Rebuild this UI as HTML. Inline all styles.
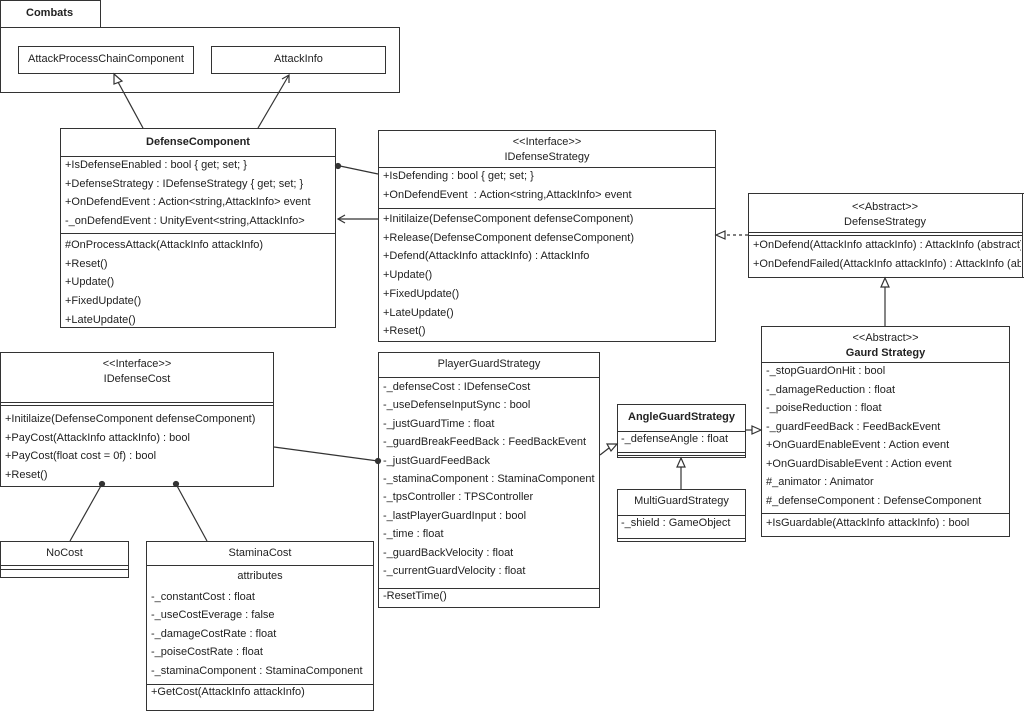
<!DOCTYPE html>
<html><head><meta charset="utf-8"><style>
body{margin:0;width:1024px;height:707px;background:#fff;position:relative;overflow:hidden;font-family:"Liberation Sans",sans-serif;font-size:11px;color:#222}
.b{position:absolute;border:1px solid #333;background:#fff;box-sizing:border-box}
.t{position:absolute;white-space:nowrap}
.hl{position:absolute;height:1px;background:#333}
.c{text-align:center}
</style></head><body>
<div class="b" style="left:0;top:0;width:101px;height:28px"></div>
<div class="t" style="left:26px;top:7px;font-weight:bold">Combats</div>
<div class="b" style="left:0;top:27px;width:400px;height:66px"></div>
<div class="b" style="left:18px;top:46px;width:176px;height:28px"></div>
<div class="t" style="left:28px;top:53px">AttackProcessChainComponent</div>
<div class="b" style="left:211px;top:46px;width:175px;height:28px"></div>
<div class="t" style="left:274px;top:53px">AttackInfo</div>

<div class="b" style="left:60px;top:128px;width:276px;height:200px"></div>
<div class="t c" style="left:60px;width:276px;top:136px;font-weight:bold">DefenseComponent</div>
<div class="hl" style="left:60px;top:156px;width:276px"></div>
<div class="hl" style="left:60px;top:233px;width:276px"></div>
<div class="t" style="left:65px;top:156px;line-height:18.7px">+IsDefenseEnabled : bool { get; set; }<br>+DefenseStrategy : IDefenseStrategy { get; set; }<br>+OnDefendEvent : Action&lt;string,AttackInfo&gt; event<br>-_onDefendEvent : UnityEvent&lt;string,AttackInfo&gt;</div>
<div class="t" style="left:65px;top:236px;line-height:18.7px">#OnProcessAttack(AttackInfo attackInfo)<br>+Reset()<br>+Update()<br>+FixedUpdate()<br>+LateUpdate()</div>

<div class="b" style="left:378px;top:130px;width:338px;height:212px"></div>
<div class="t c" style="left:378px;width:338px;top:135px;line-height:15px">&lt;&lt;Interface&gt;&gt;<br>IDefenseStrategy</div>
<div class="hl" style="left:378px;top:167px;width:338px"></div>
<div class="hl" style="left:378px;top:208px;width:338px"></div>
<div class="t" style="left:383px;top:167px;line-height:18.7px">+IsDefending : bool { get; set; }<br>+OnDefendEvent&nbsp; : Action&lt;string,AttackInfo&gt; event</div>
<div class="t" style="left:383px;top:210px;line-height:18.7px">+Initilaize(DefenseComponent defenseComponent)<br>+Release(DefenseComponent defenseComponent)<br>+Defend(AttackInfo attackInfo) : AttackInfo<br>+Update()<br>+FixedUpdate()<br>+LateUpdate()<br>+Reset()</div>

<div class="b" style="left:748px;top:193px;width:276px;height:85px;border-right:none"></div>
<div class="hl" style="left:1022px;top:193px;width:1px;height:85px"></div>
<div class="t c" style="left:748px;width:274px;top:200px;line-height:15px">&lt;&lt;Abstract&gt;&gt;<br>DefenseStrategy</div>
<div class="hl" style="left:748px;top:232px;width:274px"></div>
<div class="hl" style="left:748px;top:235px;width:274px"></div>
<div style="position:absolute;left:749px;top:236px;width:272px;overflow:hidden"><div class="t" style="position:static;line-height:18.5px;padding-left:4px">+OnDefend(AttackInfo attackInfo) : AttackInfo (abstract)<br>+OnDefendFailed(AttackInfo attackInfo) : AttackInfo (abstract)</div></div>

<div class="b" style="left:761px;top:326px;width:249px;height:211px"></div>
<div class="t c" style="left:761px;width:249px;top:331px;line-height:15px">&lt;&lt;Abstract&gt;&gt;<br><b>Gaurd Strategy</b></div>
<div class="hl" style="left:761px;top:362px;width:249px"></div>
<div class="hl" style="left:761px;top:513px;width:249px"></div>
<div class="t" style="left:766px;top:362px;line-height:18.5px">-_stopGuardOnHit : bool<br>-_damageReduction : float<br>-_poiseReduction : float<br>-_guardFeedBack : FeedBackEvent<br>+OnGuardEnableEvent : Action event<br>+OnGuardDisableEvent : Action event<br>#_animator : Animator<br>#_defenseComponent : DefenseComponent</div>
<div class="t" style="left:766px;top:517px">+IsGuardable(AttackInfo attackInfo) : bool</div>

<div class="b" style="left:617px;top:404px;width:129px;height:54px"></div>
<div class="t c" style="left:617px;width:129px;top:411px;font-weight:bold">AngleGuardStrategy</div>
<div class="hl" style="left:617px;top:431px;width:129px"></div>
<div class="t" style="left:621px;top:433px">-_defenseAngle : float</div>
<div class="hl" style="left:617px;top:452px;width:129px"></div>
<div class="hl" style="left:617px;top:455px;width:129px"></div>

<div class="b" style="left:617px;top:489px;width:129px;height:53px"></div>
<div class="t c" style="left:617px;width:129px;top:495px">MultiGuardStrategy</div>
<div class="hl" style="left:617px;top:515px;width:129px"></div>
<div class="t" style="left:621px;top:517px">-_shield : GameObject</div>
<div class="hl" style="left:617px;top:538px;width:129px"></div>

<div class="b" style="left:378px;top:352px;width:222px;height:256px"></div>
<div class="t c" style="left:378px;width:222px;top:358px">PlayerGuardStrategy</div>
<div class="hl" style="left:378px;top:377px;width:222px"></div>
<div class="hl" style="left:378px;top:588px;width:222px"></div>
<div class="t" style="left:383px;top:378px;line-height:18.4px">-_defenseCost : IDefenseCost<br>-_useDefenseInputSync : bool<br>-_justGuardTime : float<br>-_guardBreakFeedBack : FeedBackEvent<br>-_justGuardFeedBack<br>-_staminaComponent : StaminaComponent<br>-_tpsController : TPSController<br>-_lastPlayerGuardInput : bool<br>-_time : float<br>-_guardBackVelocity : float<br>-_currentGuardVelocity : float</div>
<div class="t" style="left:383px;top:590px">-ResetTime()</div>

<div class="b" style="left:0;top:352px;width:274px;height:135px"></div>
<div class="t c" style="left:0;width:274px;top:357px;line-height:15px">&lt;&lt;Interface&gt;&gt;<br>IDefenseCost</div>
<div class="hl" style="left:0;top:402px;width:274px"></div>
<div class="hl" style="left:0;top:405px;width:274px"></div>
<div class="t" style="left:5px;top:410px;line-height:18.5px">+Initilaize(DefenseComponent defenseComponent)<br>+PayCost(AttackInfo attackInfo) : bool<br>+PayCost(float cost = 0f) : bool<br>+Reset()</div>

<div class="b" style="left:0;top:541px;width:129px;height:37px"></div>
<div class="t c" style="left:0;width:129px;top:547px">NoCost</div>
<div class="hl" style="left:0;top:565px;width:129px"></div>
<div class="hl" style="left:0;top:569px;width:129px"></div>

<div class="b" style="left:146px;top:541px;width:228px;height:170px"></div>
<div class="t c" style="left:146px;width:228px;top:547px">StaminaCost</div>
<div class="hl" style="left:146px;top:565px;width:228px"></div>
<div class="t c" style="left:146px;width:228px;top:570px">attributes</div>
<div class="t" style="left:151px;top:588px;line-height:18.4px">-_constantCost : float<br>-_useCostEverage : false<br>-_damageCostRate : float<br>-_poiseCostRate : float<br>-_staminaComponent : StaminaComponent</div>
<div class="hl" style="left:146px;top:684px;width:228px"></div>
<div class="t" style="left:151px;top:686px">+GetCost(AttackInfo attackInfo)</div>

<svg width="1024" height="707" style="position:absolute;left:0;top:0" fill="none" stroke="#333" stroke-width="1.2">
<line x1="143" y1="128" x2="118" y2="82"/><polygon points="114,74 122,81 114,84" fill="#fff"/>
<line x1="258" y1="128" x2="289" y2="75"/><polyline points="282,79 289,75 289,83"/>
<line x1="378" y1="174" x2="340" y2="166"/><circle cx="338" cy="166" r="2.5" fill="#333"/>
<line x1="378" y1="219" x2="338" y2="219"/><polyline points="345,215 338,219 345,223"/>
<line x1="748" y1="235" x2="725" y2="235" stroke-dasharray="3,3"/><polygon points="716,235 725,231 725,239" fill="#fff"/>
<line x1="885" y1="326" x2="885" y2="287"/><polygon points="885,278 881,287 889,287" fill="#fff"/>
<line x1="746" y1="430" x2="752" y2="430"/><polygon points="761,430 752,426 752,434" fill="#fff"/>
<line x1="600" y1="455" x2="609" y2="448"/><polygon points="617,444 607,444 611,451" fill="#fff"/>
<line x1="681" y1="489" x2="681" y2="467"/><polygon points="681,458 677,467 685,467" fill="#fff"/>
<line x1="274" y1="447" x2="378" y2="461"/><circle cx="378" cy="461" r="2.5" fill="#333"/>
<line x1="70" y1="541" x2="102" y2="484"/><circle cx="102" cy="484" r="2.5" fill="#333"/>
<line x1="207" y1="541" x2="176" y2="484"/><circle cx="176" cy="484" r="2.5" fill="#333"/>
</svg>
</body></html>
